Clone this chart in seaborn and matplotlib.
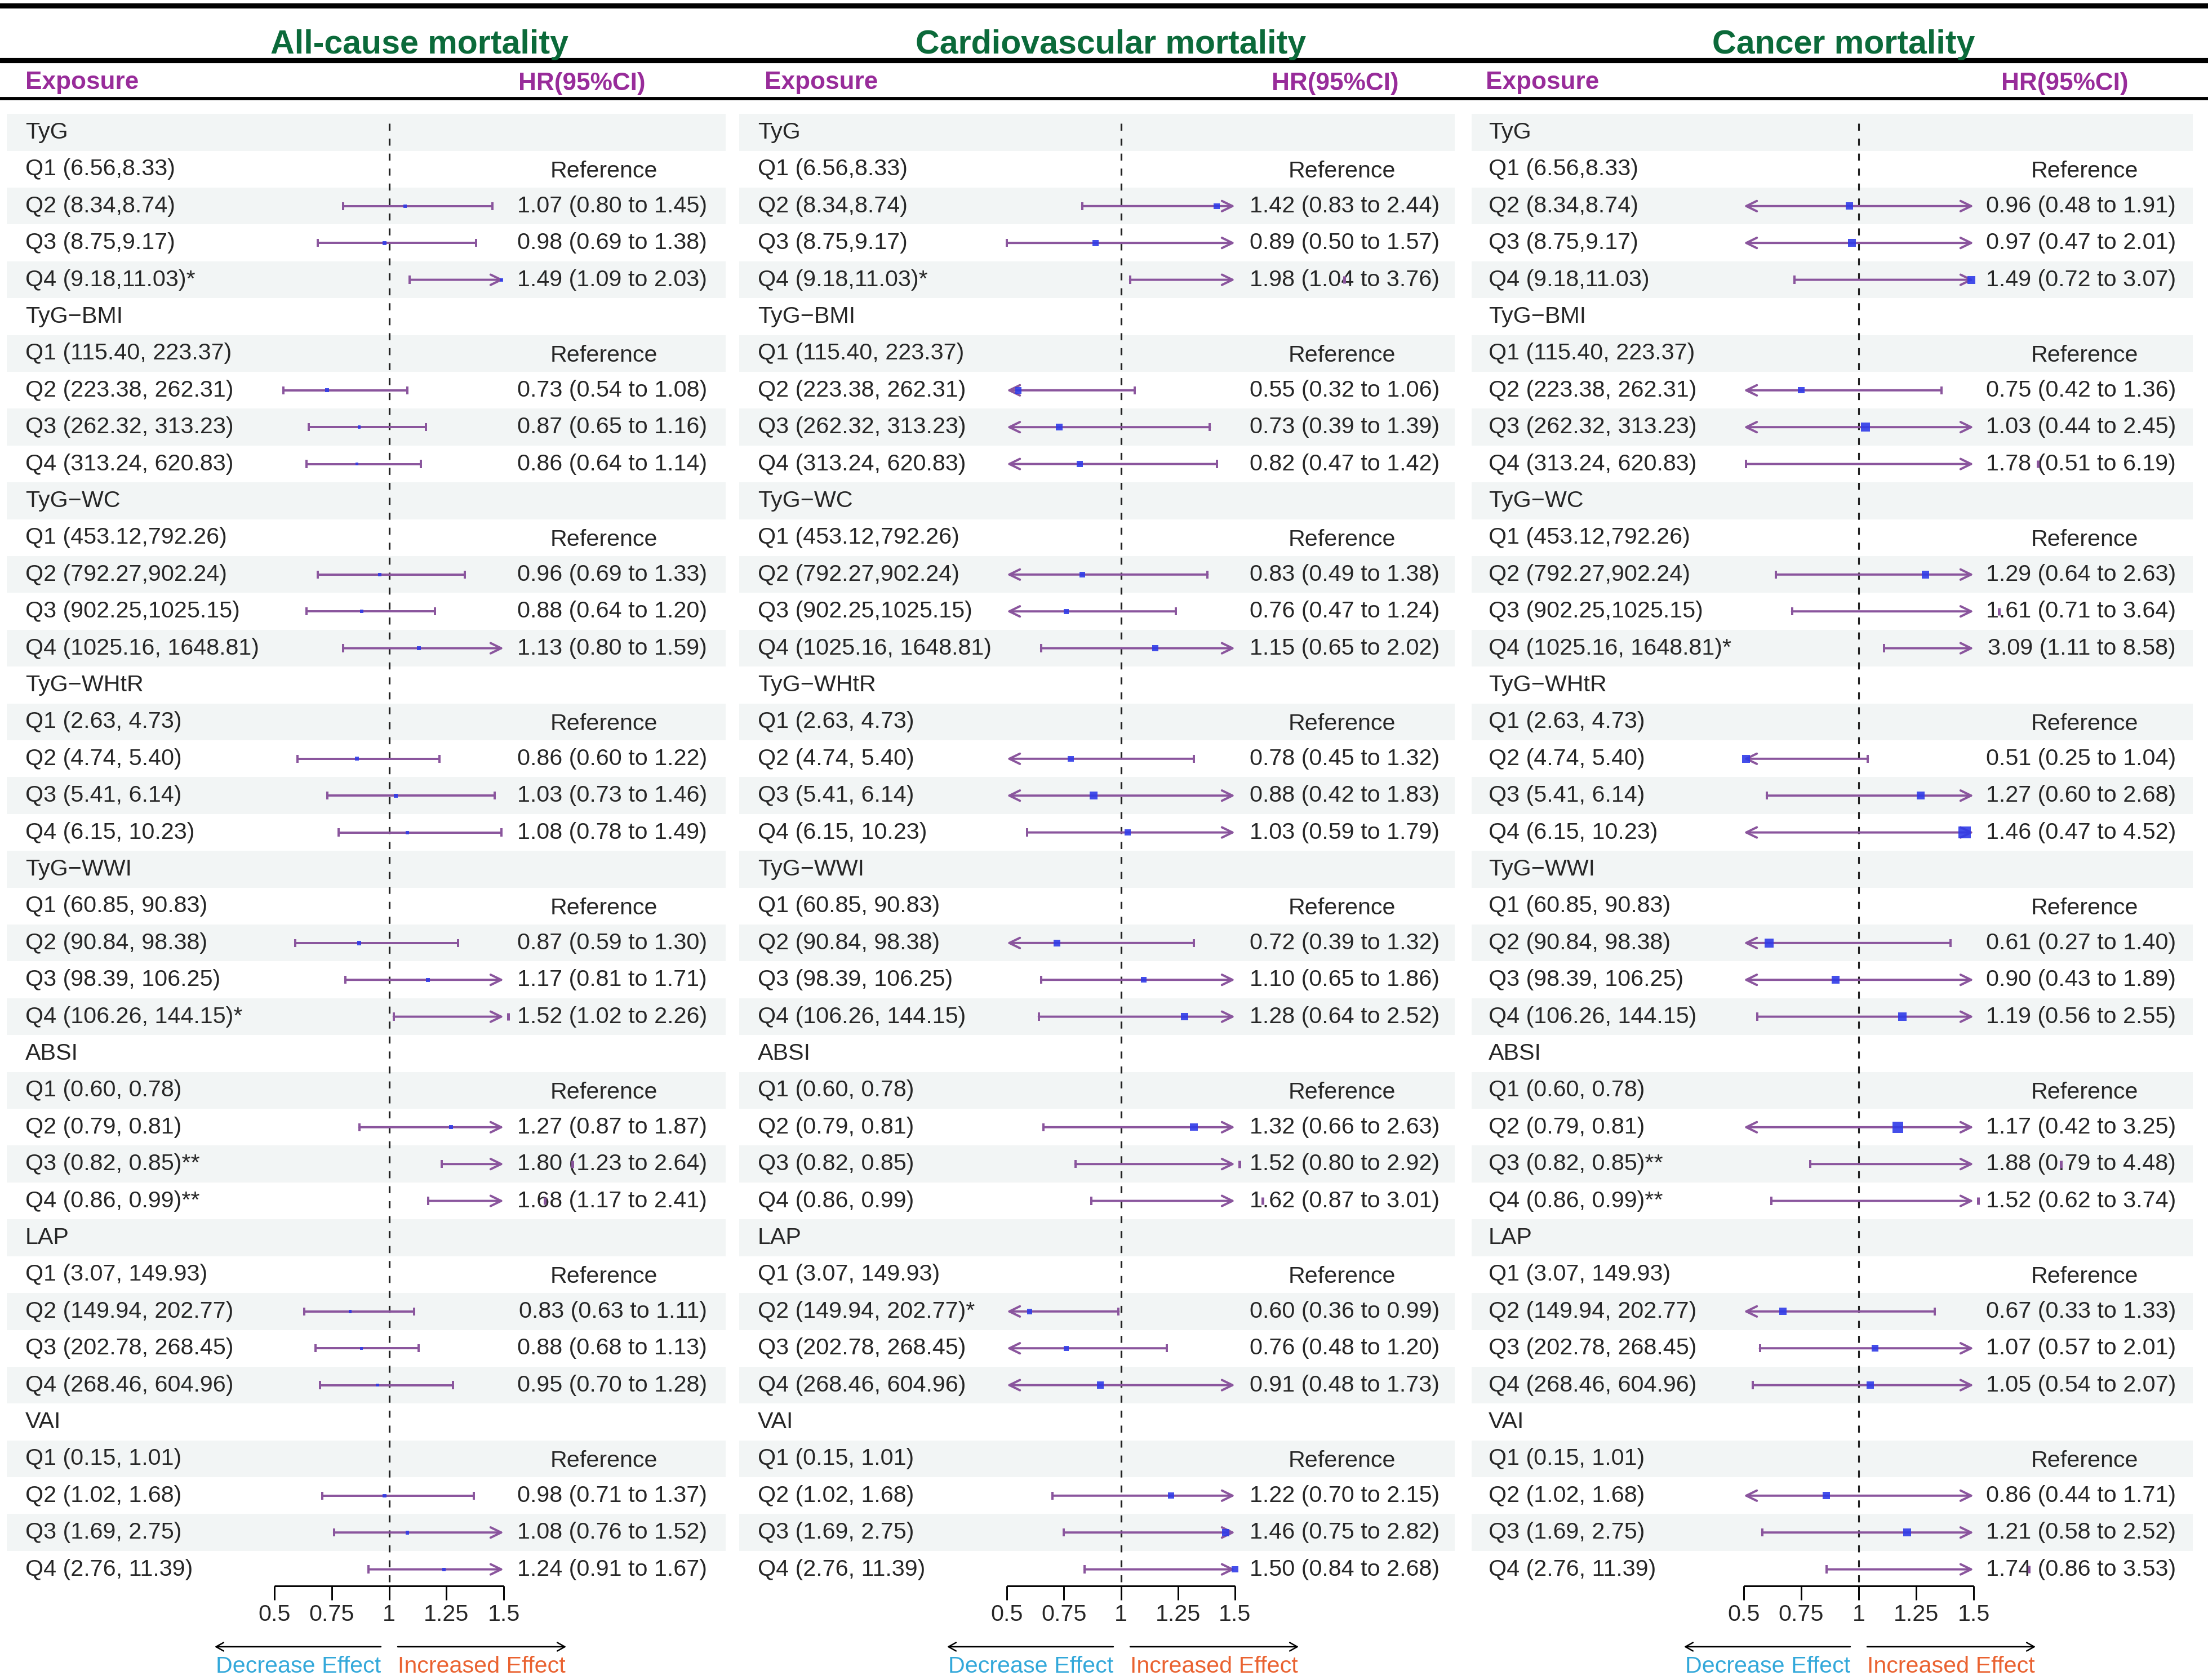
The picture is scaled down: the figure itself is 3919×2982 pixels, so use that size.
import numpy as np
import pandas as pd
import matplotlib.pyplot as plt
import seaborn as sns

# ---- data ----
groups = ['TyG', 'TyG−BMI', 'TyG−WC', 'TyG−WHtR', 'TyG−WWI', 'ABSI', 'LAP', 'VAI']
quartile_ranges = [
    ['(6.56,8.33)', '(8.34,8.74)', '(8.75,9.17)', '(9.18,11.03)'],
    ['(115.40, 223.37)', '(223.38, 262.31)', '(262.32, 313.23)', '(313.24, 620.83)'],
    ['(453.12,792.26)', '(792.27,902.24)', '(902.25,1025.15)', '(1025.16, 1648.81)'],
    ['(2.63, 4.73)', '(4.74, 5.40)', '(5.41, 6.14)', '(6.15, 10.23)'],
    ['(60.85, 90.83)', '(90.84, 98.38)', '(98.39, 106.25)', '(106.26, 144.15)'],
    ['(0.60, 0.78)', '(0.79, 0.81)', '(0.82, 0.85)', '(0.86, 0.99)'],
    ['(3.07, 149.93)', '(149.94, 202.77)', '(202.78, 268.45)', '(268.46, 604.96)'],
    ['(0.15, 1.01)', '(1.02, 1.68)', '(1.69, 2.75)', '(2.76, 11.39)'],
]
titles = ['All-cause mortality', 'Cardiovascular mortality', 'Cancer mortality']

# Q2, Q3, Q4 of each group, in group order
allcause_hr = [1.07, 0.98, 1.49, 0.73, 0.87, 0.86, 0.96, 0.88, 1.13, 0.86, 1.03, 1.08,
               0.87, 1.17, 1.52, 1.27, 1.80, 1.68, 0.83, 0.88, 0.95, 0.98, 1.08, 1.24]
allcause_lo = [0.80, 0.69, 1.09, 0.54, 0.65, 0.64, 0.69, 0.64, 0.80, 0.60, 0.73, 0.78,
               0.59, 0.81, 1.02, 0.87, 1.23, 1.17, 0.63, 0.68, 0.70, 0.71, 0.76, 0.91]
allcause_hi = [1.45, 1.38, 2.03, 1.08, 1.16, 1.14, 1.33, 1.20, 1.59, 1.22, 1.46, 1.49,
               1.30, 1.71, 2.26, 1.87, 2.64, 2.41, 1.11, 1.13, 1.28, 1.37, 1.52, 1.67]
allcause_star = ['', '', '*', '', '', '', '', '', '', '', '', '',
                 '', '', '*', '', '**', '**', '', '', '', '', '', '']

cardio_hr = [1.42, 0.89, 1.98, 0.55, 0.73, 0.82, 0.83, 0.76, 1.15, 0.78, 0.88, 1.03,
             0.72, 1.10, 1.28, 1.32, 1.52, 1.62, 0.60, 0.76, 0.91, 1.22, 1.46, 1.50]
cardio_lo = [0.83, 0.50, 1.04, 0.32, 0.39, 0.47, 0.49, 0.47, 0.65, 0.45, 0.42, 0.59,
             0.39, 0.65, 0.64, 0.66, 0.80, 0.87, 0.36, 0.48, 0.48, 0.70, 0.75, 0.84]
cardio_hi = [2.44, 1.57, 3.76, 1.06, 1.39, 1.42, 1.38, 1.24, 2.02, 1.32, 1.83, 1.79,
             1.32, 1.86, 2.52, 2.63, 2.92, 3.01, 0.99, 1.20, 1.73, 2.15, 2.82, 2.68]
cardio_star = ['', '', '*', '', '', '', '', '', '', '', '', '',
               '', '', '', '', '', '', '*', '', '', '', '', '']

cancer_hr = [0.96, 0.97, 1.49, 0.75, 1.03, 1.78, 1.29, 1.61, 3.09, 0.51, 1.27, 1.46,
             0.61, 0.90, 1.19, 1.17, 1.88, 1.52, 0.67, 1.07, 1.05, 0.86, 1.21, 1.74]
cancer_lo = [0.48, 0.47, 0.72, 0.42, 0.44, 0.51, 0.64, 0.71, 1.11, 0.25, 0.60, 0.47,
             0.27, 0.43, 0.56, 0.42, 0.79, 0.62, 0.33, 0.57, 0.54, 0.44, 0.58, 0.86]
cancer_hi = [1.91, 2.01, 3.07, 1.36, 2.45, 6.19, 2.63, 3.64, 8.58, 1.04, 2.68, 4.52,
             1.40, 1.89, 2.55, 3.25, 4.48, 3.74, 1.33, 2.01, 2.07, 1.71, 2.52, 3.53]
cancer_star = ['', '', '', '', '', '', '', '', '*', '', '', '',
               '', '', '', '', '**', '**', '', '', '', '', '', '']

ticks = [0.5, 0.75, 1, 1.25, 1.5]
tick_labels = ['0.5', '0.75', '1', '1.25', '1.5']
XMIN, XMAX = 0.5, 1.5

# ---- style ----
sns.set_style('white')
plt.rcParams['font.family'] = ['Liberation Sans', 'DejaVu Sans']

SHADE = '#F2F5F5'
CI_COL = '#8A559D'
PT_COL = '#2F3BE8'
GREEN = '#0B6A3A'
PURPLE = '#982C9A'
FS = 9.9

W, H = 3919, 2982
ROW0, ROWH = 235, 65.4
# panel geometry in pixels: left, right, x of 0.5, x of 1.5
panels = [(12, 1288, 487, 894), (1312, 2582, 1787, 2192), (2612, 3892, 3095, 3503)]
label_px = [45, 1345, 2642]
hr_px = [1255, 2555, 3862]
ref_px = [1072, 2382, 3700]
exp_px = [45, 1357, 2637]
head_px = [1033, 2370, 3665]
title_px = [745, 1972, 3272]


def build(hr, lo, hi, star):
    rows = []
    k = 0
    for g, name in enumerate(groups):
        rows.append(dict(label=name, hr=np.nan, lo=np.nan, hi=np.nan, txt=''))
        for q in range(4):
            lab = f'Q{q + 1} {quartile_ranges[g][q]}'
            if q == 0:
                rows.append(dict(label=lab, hr=np.nan, lo=np.nan, hi=np.nan, txt='Reference'))
            else:
                rows.append(dict(label=lab + star[k], hr=hr[k], lo=lo[k], hi=hi[k],
                                 txt=f'{hr[k]:.2f} ({lo[k]:.2f} to {hi[k]:.2f})'))
                k += 1
    df = pd.DataFrame(rows)
    df['row'] = np.arange(len(df))
    df['se'] = (np.log(df['hi']) - np.log(df['lo'])) / 3.92
    df['area'] = (9.0 * df['se']) ** 2
    return df


data = [build(allcause_hr, allcause_lo, allcause_hi, allcause_star),
        build(cardio_hr, cardio_lo, cardio_hi, cardio_star),
        build(cancer_hr, cancer_lo, cancer_hi, cancer_star)]
amin = min(d['area'].min() for d in data)
amax = max(d['area'].max() for d in data)

fig = plt.figure(figsize=(W / 300, H / 300), dpi=300)

y_top = (180 - ROW0) / ROWH
y_bot = (H - ROW0) / ROWH
AXIS_Y = (2815 - ROW0) / ROWH
TICK_Y = (2840 - ROW0) / ROWH
TLAB_Y = (2866 - ROW0) / ROWH
ARR_Y = (2923 - ROW0) / ROWH
EFF_Y = (2958 - ROW0) / ROWH

for p, df in enumerate(data):
    L, R, x05, x15 = panels[p]
    ppu = (x15 - x05) / (XMAX - XMIN)

    def px2x(px):
        return XMIN + (px - x05) / ppu

    ax = fig.add_axes([L / W, 0, (R - L) / W, (H - 180) / H])

    for i in range(0, len(df), 2):
        ax.axhspan(i - 0.5, i + 0.5, color=SHADE, lw=0, zorder=0)

    for _, r in df.iterrows():
        ax.text(px2x(label_px[p]), r['row'], r['label'], ha='left', va='center', fontsize=FS)
        if r['txt'] == 'Reference':
            ax.text(px2x(ref_px[p]), r['row'] + 0.05, 'Reference', ha='center', va='center',
                    fontsize=FS)
        elif r['txt']:
            ax.text(px2x(hr_px[p]), r['row'], r['txt'], ha='right', va='center', fontsize=FS)

    # reference line
    ax.vlines(1, -0.25, AXIS_Y, colors='#222222', lw=0.75, linestyles=(0, (4, 4.5)), zorder=2)

    # confidence intervals
    est = df.dropna(subset=['hr'])
    for _, r in est.iterrows():
        y = r['row']
        lo_c, hi_c = max(r['lo'], XMIN), min(r['hi'], XMAX)
        la, ra = r['lo'] < XMIN, r['hi'] > XMAX
        if la or ra:
            style = {(True, False): '<-', (False, True): '->', (True, True): '<->'}[(la, ra)]
            ax.annotate('', xy=(hi_c, y), xytext=(lo_c, y), annotation_clip=False,
                        arrowprops=dict(arrowstyle=style + ',head_length=0.45,head_width=0.22',
                                        color=CI_COL, lw=0.95, shrinkA=0, shrinkB=0,
                                        mutation_scale=10), zorder=3)
        else:
            ax.hlines(y, lo_c, hi_c, colors=CI_COL, lw=0.95, zorder=3)
        if not la:
            ax.vlines(lo_c, y - 0.11, y + 0.11, colors=CI_COL, lw=0.95, zorder=3)
        if not ra:
            ax.vlines(hi_c, y - 0.11, y + 0.11, colors=CI_COL, lw=0.95, zorder=3)

    inside = est[(est['hr'] >= XMIN) & (est['hr'] <= XMAX)]
    outside = est[est['hr'] > XMAX]
    sns.scatterplot(data=inside, x='hr', y='row', size='area', sizes=(amin, amax),
                    size_norm=(amin, amax), marker='s', color=PT_COL, linewidth=0,
                    alpha=0.9, legend=False, ax=ax, zorder=5)
    ax.vlines(outside['hr'], outside['row'] - 0.1, outside['row'] + 0.1,
              colors=CI_COL, lw=1.2, zorder=5)
    ax.set_xlim(px2x(L), px2x(R))
    ax.set_ylim(y_bot, y_top)
    ax.axis('off')

    # x axis
    ax.hlines(AXIS_Y, XMIN, XMAX, colors='black', lw=0.7)
    ax.vlines(ticks, AXIS_Y, TICK_Y, colors='black', lw=0.7)
    for t, tl in zip(ticks, tick_labels):
        ax.text(t, TLAB_Y, tl, ha='center', va='center', fontsize=FS)

    # effect arrows
    ax.annotate('', xy=(px2x(x05 - 106), ARR_Y), xytext=(px2x(x05 + 189), ARR_Y),
                annotation_clip=False,
                arrowprops=dict(arrowstyle='->,head_length=0.32,head_width=0.18', color='black',
                                lw=0.6, shrinkA=0, shrinkB=0, mutation_scale=10))
    ax.annotate('', xy=(px2x(x05 + 518), ARR_Y), xytext=(px2x(x05 + 219), ARR_Y),
                annotation_clip=False,
                arrowprops=dict(arrowstyle='->,head_length=0.32,head_width=0.18', color='black',
                                lw=0.6, shrinkA=0, shrinkB=0, mutation_scale=10))
    ax.text(px2x(x05 + 189), EFF_Y, 'Decrease Effect', ha='right', va='center',
            fontsize=FS, color='#33A8DA')
    ax.text(px2x(x05 + 219), EFF_Y, 'Increased Effect', ha='left', va='center',
            fontsize=FS, color='#EA6230')

    # titles and headers
    fig.text(title_px[p] / W, 1 - 95 / H, titles[p], ha='center', va='baseline',
             fontsize=14.2, fontweight='bold', color=GREEN)
    fig.text(exp_px[p] / W, 1 - 158 / H, 'Exposure', ha='left', va='baseline',
             fontsize=10.6, fontweight='bold', color=PURPLE)
    fig.text(head_px[p] / W, 1 - 160 / H, 'HR(95%CI)', ha='center', va='baseline',
             fontsize=10.6, fontweight='bold', color=PURPLE)

for yy, lw in [(10, 2.2), (107, 2.2), (175, 1.4)]:
    fig.add_artist(plt.Line2D([0, 1], [1 - yy / H, 1 - yy / H], color='black', lw=lw))

fig.savefig('out.png', dpi=300)
